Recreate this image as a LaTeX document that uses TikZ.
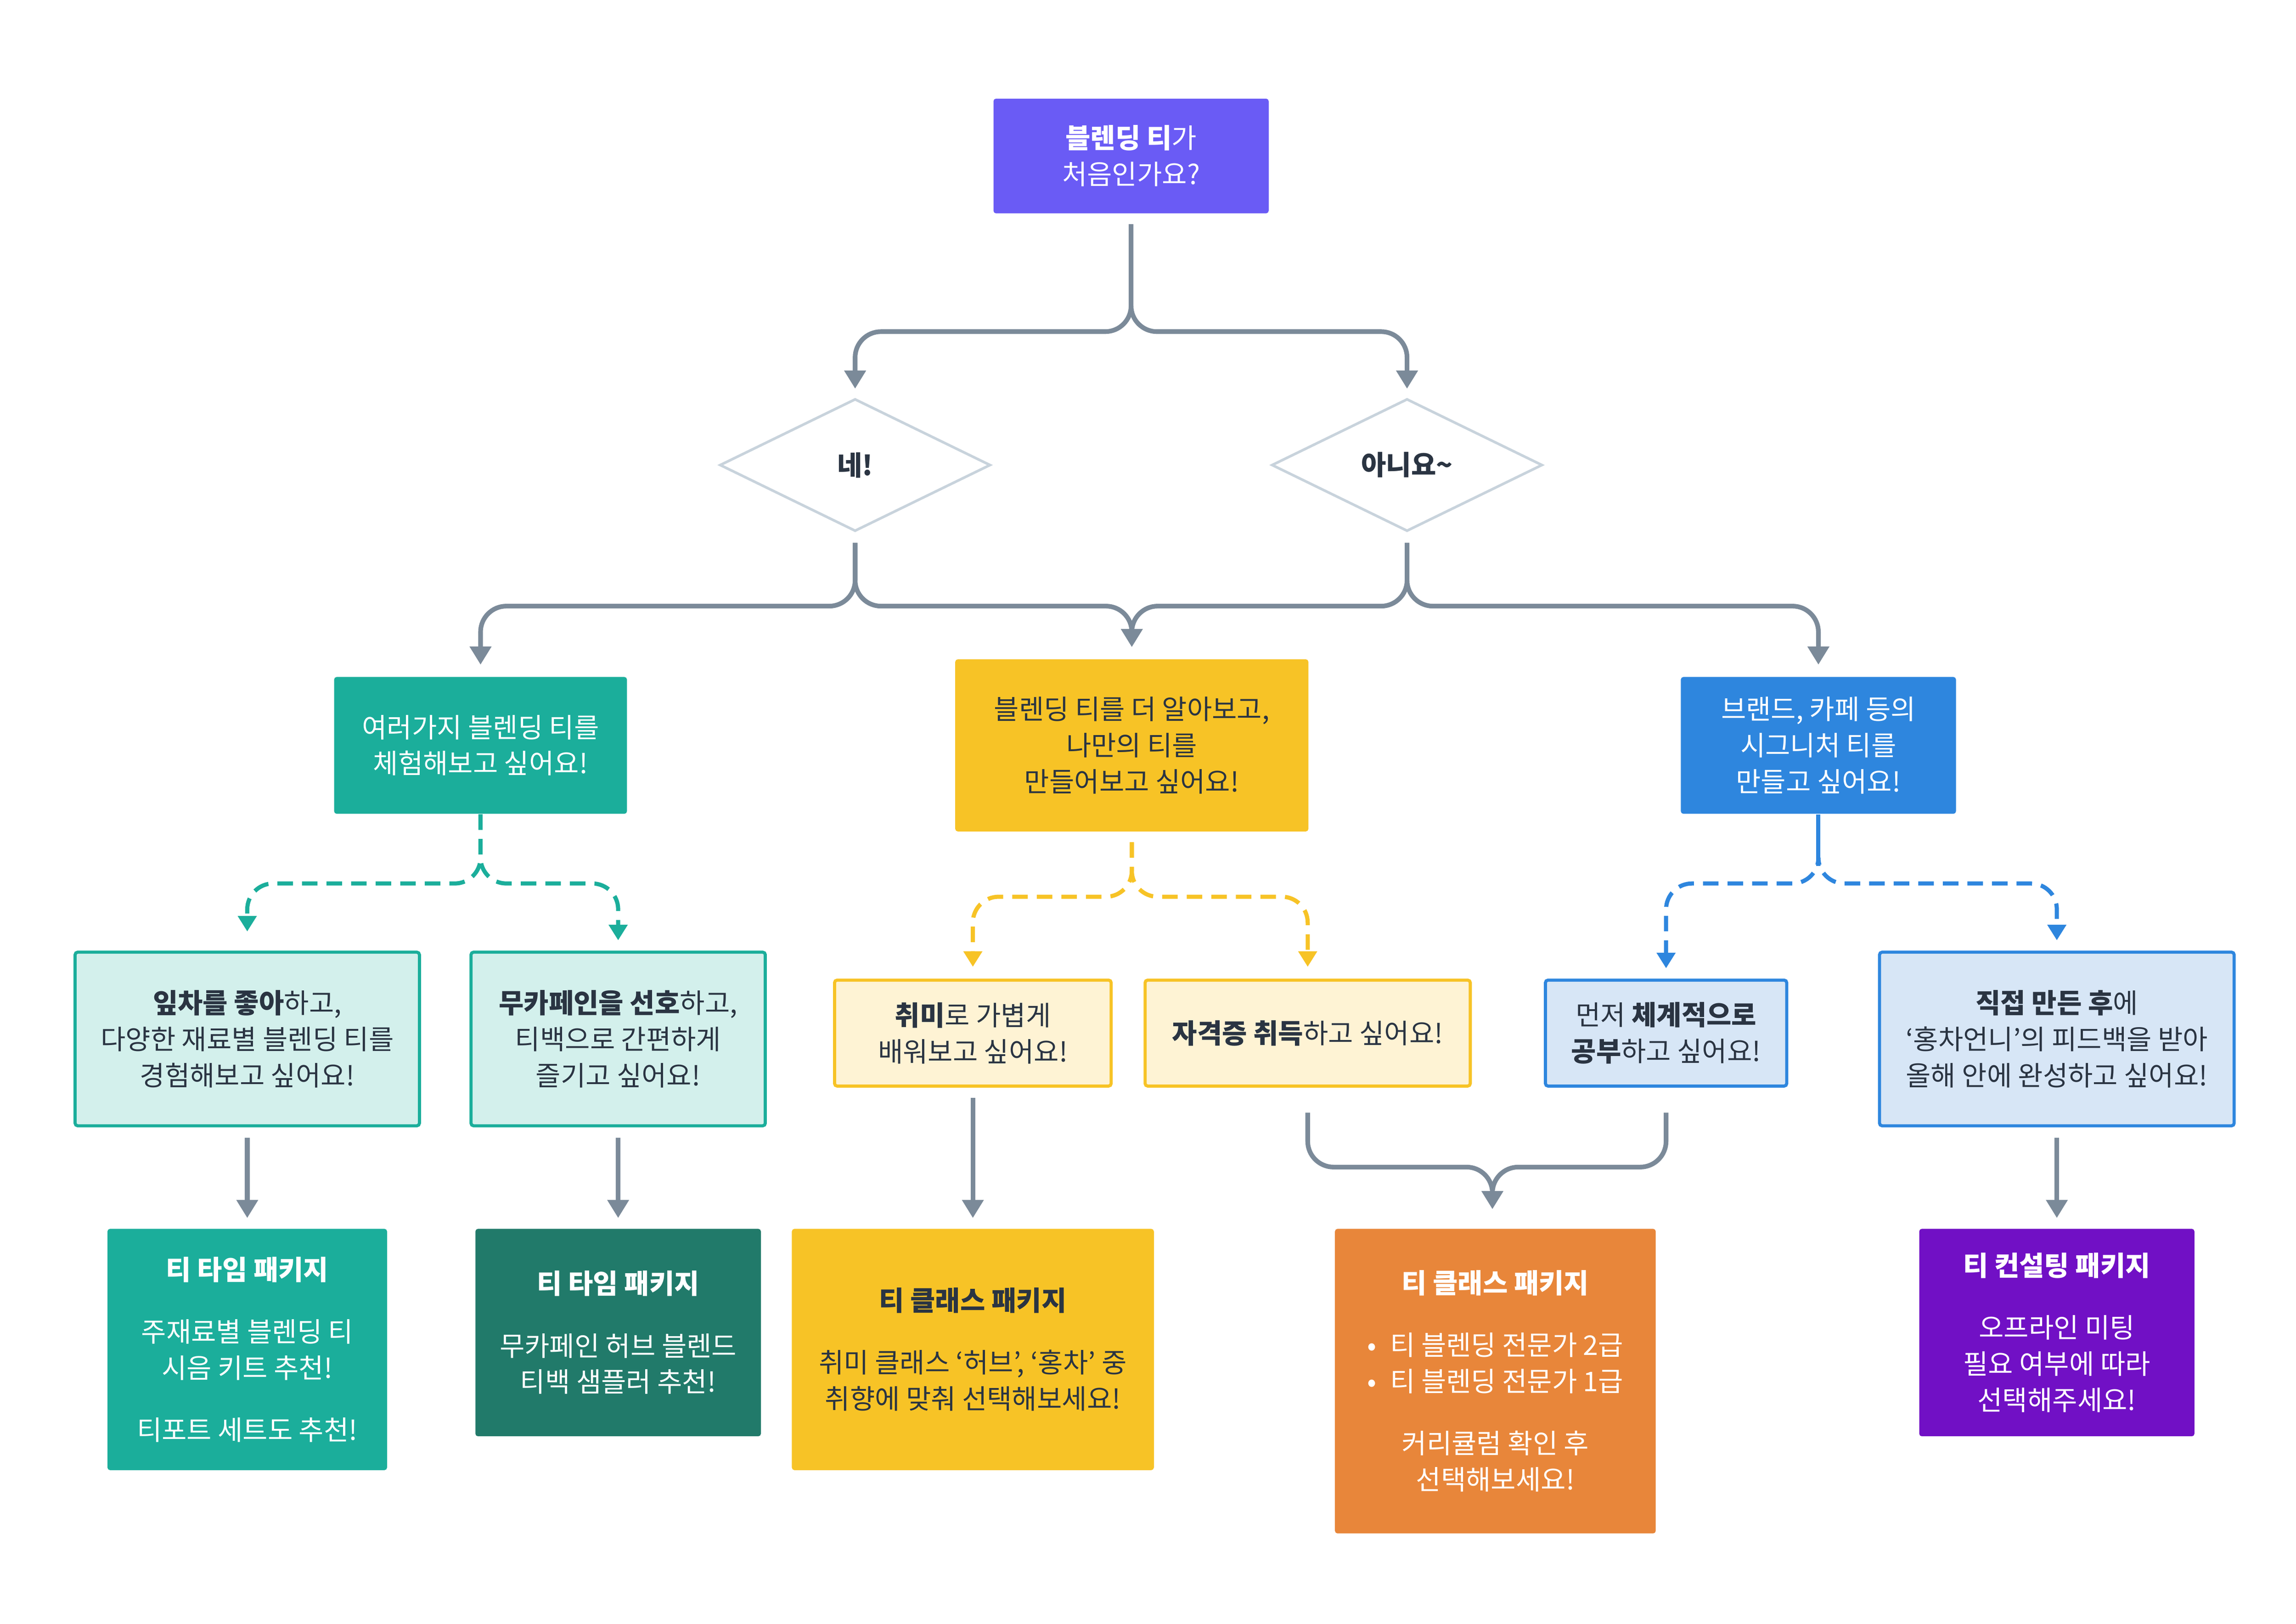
\documentclass[tikz,border=0pt]{standalone}
\usepackage{fontspec}
\setmainfont{Noto Sans CJK KR}
\usetikzlibrary{positioning, shapes.geometric, arrows.meta}

\definecolor{linegray}{HTML}{7B8A99}
\definecolor{txtdark}{HTML}{2A3442}
\definecolor{violet}{HTML}{6A5BF5}
\definecolor{teal}{HTML}{1BAE9B}
\definecolor{tealpale}{HTML}{D3F0EC}
\definecolor{tealdark}{HTML}{217A6A}
\definecolor{mustard}{HTML}{F7C326}
\definecolor{mustardpale}{HTML}{FEF3D4}
\definecolor{skyblue}{HTML}{2E86DE}
\definecolor{skypale}{HTML}{D7E6F6}
\definecolor{tangerine}{HTML}{E8863A}
\definecolor{grape}{HTML}{7110C5}
\definecolor{diagray}{HTML}{C8D3DC}

\tikzset{
  box/.style={rectangle, rounded corners=1pt, align=center, inner sep=2pt,
    font=\fontsize{10.5}{14}\selectfont},
  qbox/.style={box, draw=#1, line width=1.2pt},
  flow/.style={draw=linegray, line width=1.8pt, rounded corners=10pt,
    -{Triangle[length=7pt, width=8pt]}},
  merge/.style={draw=linegray, line width=1.8pt, rounded corners=10pt},
  dash/.style={draw=#1, line width=1.6pt, rounded corners=10pt,
    dash pattern=on 6pt off 3.5pt, -{Triangle[length=6pt, width=7pt]}}
}

\begin{document}
\begin{tikzpicture}[x=0.02cm, y=-0.02cm]
    \useasboundingbox (0,0) rectangle (1560,1103.3);

    % Start question
    \node[box, fill=violet, text=white, minimum width=3.74cm, minimum height=1.56cm] (start) at (768.5,106) {\textbf{블렌딩 티}가\\처음인가요?};

    % Answers
    \node[diamond, draw=diagray, line width=1pt, aspect=2.05, minimum width=3.68cm, minimum height=1.8cm, inner sep=0pt, text=txtdark, font=\fontsize{10.5}{14}\selectfont\bfseries] (yes) at (581,316) {네!};
    \node[diamond, draw=diagray, line width=1pt, aspect=2.05, minimum width=3.68cm, minimum height=1.8cm, inner sep=0pt, text=txtdark, font=\fontsize{10.5}{14}\selectfont\bfseries] (no) at (956,316) {아니요\textasciitilde};

    % Goals
    \node[box, fill=teal, text=white, minimum width=3.98cm, minimum height=1.86cm] (tryall) at (326.5,506.5) {여러가지 블렌딩 티를\\체험해보고 싶어요!};
    \node[box, fill=mustard, text=txtdark, minimum width=4.8cm, minimum height=2.34cm] (mine) at (769,506.5) {블렌딩 티를 더 알아보고,\\나만의 티를\\만들어보고 싶어요!};
    \node[box, fill=skyblue, text=white, minimum width=3.74cm, minimum height=1.86cm] (brand) at (1235.5,506.5) {브랜드, 카페 등의\\시그니처 티를\\만들고 싶어요!};

    % Preferences
    \node[qbox=teal, fill=tealpale, text=txtdark, minimum width=4.68cm, minimum height=2.36cm] (leaf) at (168,706) {\textbf{잎차를 좋아}하고,\\다양한 재료별 블렌딩 티를\\경험해보고 싶어요!};
    \node[qbox=teal, fill=tealpale, text=txtdark, minimum width=4cm, minimum height=2.36cm] (decaf) at (420,706) {\textbf{무카페인을 선호}하고,\\티백으로 간편하게\\즐기고 싶어요!};
    \node[qbox=mustard, fill=mustardpale, text=txtdark, minimum width=3.76cm, minimum height=1.44cm] (hobby) at (661,702) {\textbf{취미}로 가볍게\\배워보고 싶어요!};
    \node[qbox=mustard, fill=mustardpale, text=txtdark, minimum width=4.42cm, minimum height=1.44cm] (cert) at (888.5,702) {\textbf{자격증 취득}하고 싶어요!};
    \node[qbox=skyblue, fill=skypale, text=txtdark, minimum width=3.28cm, minimum height=1.44cm] (study) at (1132,702) {먼저 \textbf{체계적으로}\\\textbf{공부}하고 싶어요!};
    \node[qbox=skyblue, fill=skypale, text=txtdark, minimum width=4.82cm, minimum height=2.36cm] (feedback) at (1397.5,706) {\textbf{직접 만든 후}에\\‘홍차언니’의 피드백을 받아\\올해 안에 완성하고 싶어요!};

    % Packages
    \node[box, fill=teal, text=white, minimum width=3.8cm, minimum height=3.28cm] (pkga) at (168,917) {\textbf{티 타임 패키지}\\[10pt]주재료별 블렌딩 티\\시음 키트 추천!\\[10pt]티포트 세트도 추천!};
    \node[box, fill=tealdark, text=white, minimum width=3.88cm, minimum height=2.82cm] (pkgb) at (420,905.5) {\textbf{티 타임 패키지}\\[10pt]무카페인 허브 블렌드\\티백 샘플러 추천!};
    \node[box, fill=mustard, text=txtdark, minimum width=4.92cm, minimum height=3.28cm] (pkgc) at (661,917) {\textbf{티 클래스 패키지}\\[10pt]취미 클래스 ‘허브’, ‘홍차’ 중\\취향에 맞춰 선택해보세요!};
    \node[box, fill=tangerine, text=white, minimum width=4.36cm, minimum height=4.14cm] (pkgd) at (1016,938.5) {\textbf{티 클래스 패키지}\\[10pt]\textbullet\enspace 티 블렌딩 전문가 2급\\\textbullet\enspace 티 블렌딩 전문가 1급\\[10pt]커리큘럼 확인 후\\선택해보세요!};
    \node[box, fill=grape, text=white, minimum width=3.74cm, minimum height=2.82cm] (pkge) at (1397.5,905.5) {\textbf{티 컨설팅 패키지}\\[10pt]오프라인 미팅\\필요 여부에 따라\\선택해주세요!};

    % First split
    \draw[flow] ([yshift=-7*0.02cm]start.south) -- ++(0,73) -| ([yshift=6*0.02cm]yes.north);
    \draw[flow] ([yshift=-7*0.02cm]start.south) -- ++(0,73) -| ([yshift=6*0.02cm]no.north);

    % Second split
    \draw[flow] ([yshift=-7*0.02cm]yes.south) -- ++(0,43) -| ([yshift=8*0.02cm]tryall.north);
    \draw[flow] ([yshift=-7*0.02cm]yes.south) -- ++(0,43) -| ([yshift=8*0.02cm]mine.north);
    \draw[flow] ([yshift=-7*0.02cm]no.south) -- ++(0,43) -| ([yshift=8*0.02cm]mine.north);
    \draw[flow] ([yshift=-7*0.02cm]no.south) -- ++(0,43) -| ([yshift=8*0.02cm]brand.north);

    % Dashed splits
    \draw[dash=teal] (tryall.south) -- ++(0,47) -| ([yshift=13*0.02cm]leaf.north);
    \draw[dash=teal] (tryall.south) -- ++(0,47) -| ([yshift=7*0.02cm]decaf.north);
    \draw[dash=mustard] ([yshift=-7*0.02cm]mine.south) -- ++(0,37) -| ([yshift=8*0.02cm]hobby.north);
    \draw[dash=mustard] ([yshift=-7*0.02cm]mine.south) -- ++(0,37) -| ([yshift=8*0.02cm]cert.north);
    \draw[draw=skyblue, line width=1.6pt] (brand.south) -- ++(0,35) coordinate (bsplit);
    \draw[dash=skyblue] (bsplit) -- ++(0,12) -| ([yshift=7*0.02cm]study.north);
    \draw[dash=skyblue] (bsplit) -- ++(0,12) -| ([yshift=7*0.02cm]feedback.north);

    % To packages
    \draw[flow] ([yshift=-7*0.02cm]leaf.south) -- ([yshift=7*0.02cm]pkga.north);
    \draw[flow] ([yshift=-7*0.02cm]decaf.south) -- ([yshift=7*0.02cm]pkgb.north);
    \draw[flow] ([yshift=-7*0.02cm]hobby.south) -- ([yshift=7*0.02cm]pkgc.north);
    \draw[flow] ([yshift=-7*0.02cm]feedback.south) -- ([yshift=7*0.02cm]pkge.north);
    \draw[merge] ([yshift=-17*0.02cm]cert.south) -- ++(0,37) -| ([xshift=-2*0.02cm, yshift=20*0.02cm]pkgd.north);
    \draw[flow] ([yshift=-17*0.02cm]study.south) -- ++(0,37) -| ([xshift=-2*0.02cm, yshift=13*0.02cm]pkgd.north);
\end{tikzpicture}
\end{document}
